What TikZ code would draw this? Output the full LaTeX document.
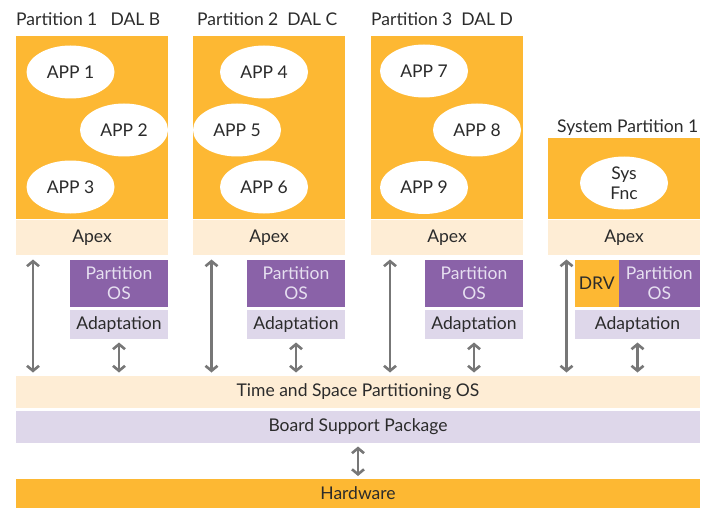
\documentclass[tikz,border=0pt]{standalone}
\usepackage{fontspec}
\setmainfont{Lato}
\usetikzlibrary{arrows.meta,calc,shapes.geometric}
\definecolor{org}{HTML}{FDB833}
\definecolor{apx}{HTML}{FEEDD5}
\definecolor{pur}{HTML}{8A62A8}
\definecolor{lav}{HTML}{DED7EA}
\definecolor{arr}{HTML}{777777}
\definecolor{txt}{HTML}{2B2B2B}
\definecolor{ptxt}{HTML}{E6DFF0}
\newcommand{\fs}{\fontsize{17.5}{19.5}\selectfont}
\begin{document}
\begin{tikzpicture}[x=1pt,y=-1pt,
  blk/.style={draw=none,inner sep=0pt,outer sep=0pt,anchor=north west,rectangle,text=txt,font=\fs,align=center},
  part/.style={blk,fill=org},
  apexbox/.style={blk,fill=apx,minimum height=35pt},
  posbox/.style={blk,fill=pur,text=ptxt,minimum height=46.5pt},
  adbox/.style={blk,fill=lav,minimum height=29pt},
  app/.style={ellipse,fill=white,minimum width=88pt,minimum height=53pt,inner sep=0pt,text=txt,font=\fs,align=center},
  ttl/.style={anchor=base west,inner sep=0pt,text=txt,font=\fs},
  dar/.style={draw=arr,line width=2.8pt,{Straight Barb[length=5pt,width=12pt,line width=2.6pt]}-{Straight Barb[length=5pt,width=12pt,line width=2.6pt]}}
]
\useasboundingbox (0,0) rectangle (704,508);
% titles
\node[ttl] (t1) at (16,26) {Partition 1\enspace\ DAL B};
\node[ttl] (t2) at (197,26) {Partition 2\ \ DAL C};
\node[ttl] (t3) at (371,26) {Partition 3\ \ DAL D};
\node[ttl] (t4) at (557,132) {System Partition 1};
% partitions
\node[part,minimum width=152pt,minimum height=183pt] (p1) at (16,36) {};
\node[part,minimum width=152pt,minimum height=183pt] (p2) at (193,36) {};
\node[part,minimum width=152pt,minimum height=183pt] (p3) at (371,36) {};
\node[part,minimum width=152pt,minimum height=81pt] (p4) at (548,138) {};
\node[apexbox,minimum width=152pt] (a1) at (16,220) {Apex};
\node[apexbox,minimum width=152pt] (a2) at (193,220) {Apex};
\node[apexbox,minimum width=152pt] (a3) at (371,220) {Apex};
\node[apexbox,minimum width=152pt] (a4) at (548,220) {Apex};
% apps
\node[app] (app1) at (70.5,72) {APP 1};
\node[app] (app2) at (124,130) {APP 2};
\node[app] (app3) at (70.5,187) {APP 3};
\node[app] (app4) at (264,72) {APP 4};
\node[app] (app5) at (237,130) {APP 5};
\node[app] (app6) at (264,187) {APP 6};
\node[app] (app7) at (424,71) {APP 7};
\node[app] (app8) at (477,130) {APP 8};
\node[app] (app9) at (424,187.5) {APP 9};
\node[app] (sys) at (624,183) {Sys\\Fnc};
% partition OS
\node[posbox,minimum width=98pt] (os1) at (70,260) {Partition\\OS};
\node[posbox,minimum width=98pt] (os2) at (247,260) {Partition\\OS};
\node[posbox,minimum width=98pt] (os3) at (425,260) {Partition\\OS};
\node[blk,fill=org,minimum width=43.5pt,minimum height=46.5pt] (drv) at (575,260) {DRV};
\node[posbox,minimum width=81.5pt] (os4) at (618.5,260) {Partition\\OS};
% adaptation
\node[adbox,minimum width=98pt] (ad1) at (70,310) {Adaptation};
\node[adbox,minimum width=98pt] (ad2) at (247,310) {Adaptation};
\node[adbox,minimum width=98pt] (ad3) at (425,310) {Adaptation};
\node[adbox,minimum width=125pt] (ad4) at (575,310) {Adaptation};
% bottom layers
\node[blk,fill=apx,minimum width=684pt,minimum height=31.5pt] (tsp) at (16,376) {Time and Space Partitioning OS};
\node[blk,fill=lav,minimum width=684pt,minimum height=31.5pt] (bsp) at (16,411) {Board Support Package};
\node[blk,fill=org,minimum width=684pt,minimum height=29pt] (hw) at (16,479) {Hardware};
% arrows
\draw[dar] ($(a1.south west)+(17,4.5)$) -- ($(a1.south west |- tsp.north)+(17,-3.5)$);
\draw[dar] ($(a2.south west)+(18.5,4.5)$) -- ($(a2.south west |- tsp.north)+(18.5,-3.5)$);
\draw[dar] ($(a3.south west)+(19,4.5)$) -- ($(a3.south west |- tsp.north)+(19,-3.5)$);
\draw[dar] ($(a4.south west)+(18.5,4.5)$) -- ($(a4.south west |- tsp.north)+(18.5,-3.5)$);
\draw[dar] ($(ad1.south)+(0,3.5)$) -- ($(ad1.south |- tsp.north)+(0,-3.5)$);
\draw[dar] ($(ad2.south)+(0,3.5)$) -- ($(ad2.south |- tsp.north)+(0,-3.5)$);
\draw[dar] ($(ad3.south)+(0,3.5)$) -- ($(ad3.south |- tsp.north)+(0,-3.5)$);
\draw[dar] ($(ad4.south)+(0,3.5)$) -- ($(ad4.south |- tsp.north)+(0,-3.5)$);
\draw[dar] ($(bsp.south)+(0,4)$) -- ($(hw.north)+(0,-3)$);
\end{tikzpicture}
\end{document}
